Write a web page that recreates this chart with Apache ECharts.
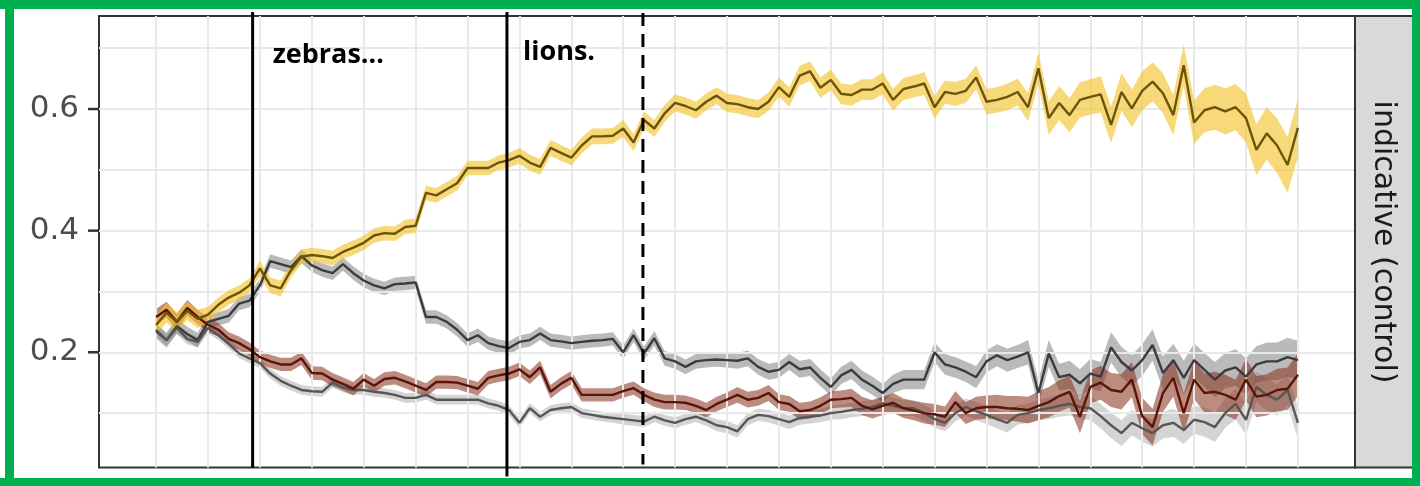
<!DOCTYPE html>
<html>
<head>
<meta charset="utf-8">
<script src="https://cdn.jsdelivr.net/npm/echarts@6/dist/echarts.min.js"></script>
<style>
  html, body { margin: 0; padding: 0; background: #ffffff; }
  #chart { width: 1420px; height: 486px; }
</style>
</head>
<body>
<div id="chart"></div>
<script>
// time steps along the x axis
const steps = Array.from({ length: 111 }, (_, i) => i);

// grid line positions and labelled y ticks
const gridX = [0, 5, 10, 15, 20, 25, 30, 35, 40, 45, 50, 55, 60, 65, 70, 75, 80, 85, 90, 95, 100, 105, 110];
const gridY = [0.1, 0.2, 0.3, 0.4, 0.5, 0.6, 0.7];
const yTickLabels = [0.2, 0.4, 0.6];

// phase boundaries
const phaseStarts = [9.3, 33.8];
const phaseLabels = ['zebras...', 'lions.'];
const dashedMark = [46.9];

const panelLabel = 'indicative (control)';

// proportion for each response, with half-width of its band
const goldMean = [
  0.245,0.265,0.25,0.268,0.255,0.262,0.278,0.29,0.298,0.31,
  0.338,0.31,0.305,0.335,0.357,0.36,0.358,0.355,0.365,0.372,
  0.38,0.392,0.396,0.395,0.406,0.408,0.462,0.458,0.468,0.478,
  0.503,0.503,0.503,0.512,0.516,0.523,0.512,0.505,0.536,0.528,
  0.52,0.54,0.555,0.555,0.556,0.568,0.545,0.582,0.568,0.593,
  0.61,0.605,0.598,0.612,0.622,0.61,0.608,0.603,0.6,0.612,
  0.636,0.62,0.655,0.662,0.635,0.648,0.625,0.623,0.632,0.632,
  0.642,0.615,0.633,0.637,0.642,0.603,0.628,0.625,0.63,0.652,
  0.612,0.615,0.62,0.628,0.603,0.667,0.585,0.61,0.59,0.615,
  0.62,0.624,0.574,0.628,0.601,0.63,0.645,0.626,0.59,0.672,
  0.578,0.598,0.603,0.596,0.603,0.585,0.533,0.56,0.54,0.508,
  0.569
];
const goldSe = [
  0.016,0.016,0.016,0.015,0.015,0.013,0.012,0.012,0.012,0.012,
  0.012,0.013,0.013,0.012,0.012,0.012,0.012,0.012,0.012,0.012,
  0.012,0.012,0.012,0.012,0.012,0.012,0.012,0.012,0.012,0.012,
  0.012,0.012,0.012,0.012,0.012,0.013,0.013,0.013,0.013,0.013,
  0.013,0.013,0.013,0.013,0.013,0.014,0.014,0.014,0.014,0.014,
  0.014,0.014,0.014,0.014,0.014,0.015,0.015,0.015,0.015,0.015,
  0.016,0.016,0.016,0.016,0.017,0.017,0.017,0.017,0.017,0.017,
  0.018,0.018,0.018,0.018,0.019,0.019,0.019,0.02,0.02,0.02,
  0.021,0.021,0.022,0.022,0.023,0.026,0.028,0.028,0.028,0.029,
  0.029,0.03,0.03,0.031,0.031,0.032,0.032,0.033,0.033,0.034,
  0.036,0.036,0.037,0.038,0.038,0.04,0.042,0.043,0.045,0.046,
  0.048
];

const darkGreyMean = [
  0.235,0.22,0.243,0.23,0.22,0.25,0.255,0.26,0.28,0.285,
  0.31,0.35,0.345,0.34,0.358,0.343,0.335,0.33,0.345,0.33,
  0.318,0.31,0.305,0.312,0.313,0.315,0.258,0.258,0.25,0.237,
  0.22,0.228,0.215,0.21,0.207,0.217,0.22,0.231,0.22,0.218,
  0.215,0.217,0.219,0.22,0.222,0.2,0.228,0.198,0.223,0.19,
  0.185,0.176,0.185,0.187,0.188,0.187,0.186,0.19,0.176,0.168,
  0.171,0.184,0.172,0.175,0.158,0.143,0.162,0.171,0.155,0.145,
  0.133,0.148,0.155,0.155,0.155,0.2,0.18,0.175,0.168,0.159,
  0.185,0.195,0.187,0.193,0.2,0.133,0.198,0.159,0.163,0.149,
  0.165,0.16,0.208,0.184,0.17,0.187,0.212,0.166,0.187,0.158,
  0.187,0.171,0.155,0.17,0.175,0.16,0.18,0.185,0.185,0.192,
  0.187
];
const darkGreySe = [
  0.012,0.012,0.012,0.012,0.012,0.011,0.011,0.011,0.011,0.011,
  0.011,0.011,0.011,0.011,0.011,0.011,0.011,0.011,0.011,0.011,
  0.011,0.011,0.011,0.011,0.011,0.011,0.011,0.011,0.011,0.011,
  0.011,0.011,0.011,0.011,0.011,0.011,0.011,0.011,0.011,0.011,
  0.011,0.011,0.011,0.011,0.011,0.011,0.011,0.011,0.012,0.012,
  0.012,0.012,0.012,0.012,0.012,0.012,0.013,0.013,0.013,0.013,
  0.013,0.013,0.014,0.014,0.014,0.014,0.014,0.015,0.015,0.015,
  0.015,0.015,0.016,0.016,0.016,0.016,0.017,0.017,0.017,0.018,
  0.018,0.018,0.019,0.019,0.02,0.021,0.022,0.022,0.023,0.023,
  0.024,0.024,0.025,0.025,0.025,0.026,0.026,0.027,0.027,0.028,
  0.028,0.028,0.029,0.029,0.03,0.03,0.03,0.031,0.031,0.032,
  0.032
];

const brownMean = [
  0.258,0.27,0.25,0.273,0.258,0.245,0.237,0.222,0.215,0.205,
  0.192,0.185,0.18,0.18,0.19,0.166,0.165,0.155,0.148,0.14,
  0.155,0.145,0.156,0.158,0.152,0.145,0.138,0.151,0.151,0.15,
  0.145,0.14,0.158,0.162,0.165,0.172,0.159,0.175,0.135,0.148,
  0.158,0.13,0.13,0.13,0.13,0.136,0.141,0.13,0.122,0.118,
  0.118,0.117,0.112,0.105,0.115,0.122,0.13,0.122,0.125,0.133,
  0.118,0.115,0.103,0.105,0.112,0.122,0.123,0.125,0.112,0.106,
  0.112,0.117,0.108,0.104,0.1,0.098,0.094,0.118,0.1,0.108,
  0.11,0.11,0.108,0.107,0.105,0.112,0.118,0.128,0.135,0.094,
  0.143,0.15,0.138,0.135,0.155,0.095,0.077,0.133,0.158,0.1,
  0.155,0.133,0.135,0.13,0.122,0.155,0.127,0.13,0.138,0.14,
  0.163
];
const brownSe = [
  0.013,0.013,0.013,0.013,0.012,0.012,0.011,0.011,0.011,0.011,
  0.011,0.011,0.011,0.011,0.011,0.011,0.011,0.011,0.011,0.011,
  0.011,0.011,0.011,0.011,0.011,0.011,0.011,0.011,0.011,0.011,
  0.011,0.011,0.011,0.011,0.011,0.011,0.011,0.011,0.011,0.011,
  0.011,0.011,0.011,0.011,0.011,0.011,0.011,0.011,0.012,0.012,
  0.012,0.012,0.012,0.012,0.012,0.012,0.013,0.013,0.013,0.013,
  0.013,0.013,0.014,0.014,0.014,0.014,0.014,0.015,0.015,0.015,
  0.015,0.016,0.016,0.016,0.017,0.017,0.017,0.018,0.018,0.019,
  0.019,0.02,0.02,0.021,0.022,0.024,0.025,0.026,0.026,0.027,
  0.027,0.028,0.028,0.029,0.029,0.03,0.03,0.031,0.031,0.032,
  0.032,0.032,0.033,0.033,0.033,0.034,0.034,0.034,0.035,0.035,
  0.035
];

const lightGreyMean = [
  0.237,0.22,0.24,0.222,0.217,0.24,0.228,0.214,0.198,0.19,
  0.182,0.165,0.153,0.145,0.138,0.136,0.135,0.15,0.142,0.138,
  0.138,0.135,0.133,0.13,0.125,0.125,0.13,0.122,0.122,0.122,
  0.122,0.122,0.116,0.112,0.105,0.084,0.108,0.094,0.105,0.108,
  0.11,0.1,0.097,0.094,0.092,0.09,0.088,0.086,0.094,0.088,
  0.084,0.09,0.094,0.088,0.08,0.077,0.07,0.09,0.097,0.095,
  0.09,0.085,0.092,0.094,0.096,0.1,0.102,0.105,0.107,0.11,
  0.116,0.112,0.108,0.108,0.1,0.09,0.084,0.1,0.11,0.103,
  0.097,0.09,0.084,0.097,0.1,0.105,0.108,0.112,0.115,0.11,
  0.108,0.095,0.08,0.067,0.084,0.075,0.067,0.08,0.084,0.072,
  0.089,0.085,0.077,0.1,0.115,0.089,0.143,0.13,0.122,0.138,
  0.084
];
const lightGreySe = [
  0.01,0.01,0.01,0.009,0.009,0.009,0.008,0.008,0.008,0.008,
  0.008,0.008,0.008,0.008,0.008,0.008,0.008,0.008,0.008,0.008,
  0.008,0.008,0.008,0.008,0.008,0.008,0.008,0.008,0.008,0.008,
  0.008,0.008,0.008,0.008,0.008,0.008,0.008,0.008,0.008,0.008,
  0.008,0.008,0.008,0.008,0.008,0.009,0.009,0.009,0.009,0.009,
  0.009,0.009,0.009,0.009,0.01,0.01,0.01,0.01,0.01,0.01,
  0.011,0.011,0.011,0.011,0.011,0.011,0.012,0.012,0.012,0.012,
  0.012,0.013,0.013,0.013,0.013,0.014,0.014,0.014,0.014,0.015,
  0.015,0.015,0.016,0.016,0.016,0.017,0.018,0.018,0.019,0.019,
  0.02,0.02,0.021,0.021,0.021,0.022,0.022,0.022,0.023,0.023,
  0.023,0.024,0.024,0.024,0.025,0.025,0.025,0.026,0.026,0.026,
  0.026
];

const groups = [
  { name: 'dark grey',  mean: darkGreyMean,  se: darkGreySe,  band: 'rgba(90,90,90,0.42)',   line: '#3b3b3b' },
  { name: 'light grey', mean: lightGreyMean, se: lightGreySe, band: 'rgba(120,120,120,0.32)', line: '#565656' },
  { name: 'brown',      mean: brownMean,     se: brownSe,     band: 'rgba(135,45,25,0.55)',   line: '#5a1509' },
  { name: 'gold',       mean: goldMean,      se: goldSe,      band: 'rgba(244,194,40,0.62)',  line: '#6b540a' }
];

function bandSeries(g, z) {
  return {
    type: 'custom',
    name: g.name + ' band',
    silent: true,
    z: z,
    data: [[0, 0]],
    renderItem: function (params, api) {
      const pts = [];
      for (let i = 0; i < steps.length; i++) pts.push(api.coord([steps[i], g.mean[i] + g.se[i]]));
      for (let i = steps.length - 1; i >= 0; i--) pts.push(api.coord([steps[i], g.mean[i] - g.se[i]]));
      return { type: 'polygon', shape: { points: pts }, style: { fill: g.band, stroke: null } };
    }
  };
}

function lineSeries(g, z) {
  return {
    type: 'line',
    name: g.name,
    z: z,
    silent: true,
    symbol: 'none',
    data: steps.map((s, i) => [s, g.mean[i]]),
    lineStyle: { color: g.line, width: 2.4 }
  };
}

const series = [];
// panel grid lines
series.push({
  type: 'line', name: 'grid', data: [], z: 1, silent: true,
  markLine: {
    silent: true, symbol: 'none', animation: false,
    label: { show: false },
    lineStyle: { color: '#e9e9e9', width: 2, type: 'solid' },
    data: gridX.map(v => ({ xAxis: v })).concat(gridY.map(v => ({ yAxis: v })))
  }
});
groups.forEach((g, k) => series.push(bandSeries(g, 2 + k)));
groups.forEach((g, k) => series.push(lineSeries(g, 10 + k)));

const PANEL = { left: 99, top: 16, right: 65, bottom: 18.5 };

const chart = echarts.init(document.getElementById('chart'), null, { renderer: 'canvas' });
chart.setOption({
  animation: false,
  backgroundColor: '#ffffff',
  grid: {
    left: PANEL.left, top: PANEL.top, right: PANEL.right, bottom: PANEL.bottom,
    show: true, borderColor: '#333333', borderWidth: 2, backgroundColor: 'transparent'
  },
  xAxis: {
    type: 'value', min: -5.5, max: 115.5,
    axisLine: { show: false }, axisTick: { show: false },
    axisLabel: { show: false }, splitLine: { show: false }
  },
  yAxis: {
    type: 'value', min: 0.0105, max: 0.753,
    axisLine: { show: false },
    splitLine: { show: false },
    axisTick: { show: false },
    axisLabel: {
      customValues: yTickLabels, margin: 20,
      fontFamily: 'DejaVu Sans', fontSize: 31, color: '#4d4d4d',
      formatter: v => Number(v).toFixed(1)
    }
  },
  series: series
});

// overlay: y tick marks, phase boundaries, labels, facet strip and frame
const toPx = (x, y) => chart.convertToPixel({ gridIndex: 0 }, [x, y]);
const panelBottom = 486 - PANEL.bottom;
const stripLeft = 1420 - PANEL.right;
const overlay = [];
yTickLabels.forEach(v => {
  const y = toPx(50, v)[1];
  overlay.push({ type: 'rect', z: 30, shape: { x: PANEL.left - 11, y: y - 1.25, width: 11, height: 2.5 },
                 style: { fill: '#333333' } });
});
const phaseEnds = [panelBottom, panelBottom + 9];
const labelGap = [20, 16];
phaseStarts.forEach((v, k) => {
  const x = toPx(v, 0.3)[0];
  overlay.push({ type: 'line', z: 45, shape: { x1: x, y1: 12, x2: x, y2: phaseEnds[k] },
                 style: { stroke: '#000000', lineWidth: 3 } });
  overlay.push({ type: 'text', z: 50, x: x + labelGap[k], y: k === 0 ? 42 : 39,
                 style: { text: phaseLabels[k], font: 'bold 27px "Open Sans"', fill: '#000000' } });
});
dashedMark.forEach(v => {
  const x = toPx(v, 0.3)[0];
  overlay.push({ type: 'line', z: 45, shape: { x1: x, y1: 13, x2: x, y2: panelBottom - 3 },
                 style: { stroke: '#000000', lineWidth: 3, lineDash: [13, 8] } });
});
overlay.push(
  { type: 'rect', z: 40, shape: { x: stripLeft, y: PANEL.top, width: 80, height: panelBottom - PANEL.top },
    style: { fill: '#d9d9d9', stroke: '#333333', lineWidth: 2 } },
  { type: 'text', z: 41, x: 1383, y: 242, rotation: -Math.PI / 2,
    style: { text: panelLabel, font: '30px "DejaVu Sans"', fill: '#1a1a1a',
             textAlign: 'center', textVerticalAlign: 'middle' } },
  { type: 'rect', z: 60, shape: { x: 0, y: 0, width: 1420, height: 9 }, style: { fill: '#00b050' } },
  { type: 'rect', z: 60, shape: { x: 0, y: 478, width: 1420, height: 8 }, style: { fill: '#00b050' } },
  { type: 'rect', z: 60, shape: { x: 5, y: 0, width: 9, height: 486 }, style: { fill: '#00b050' } },
  { type: 'rect', z: 60, shape: { x: 1412, y: 0, width: 8, height: 486 }, style: { fill: '#00b050' } }
);
chart.setOption({ graphic: overlay });
</script>
</body>
</html>
